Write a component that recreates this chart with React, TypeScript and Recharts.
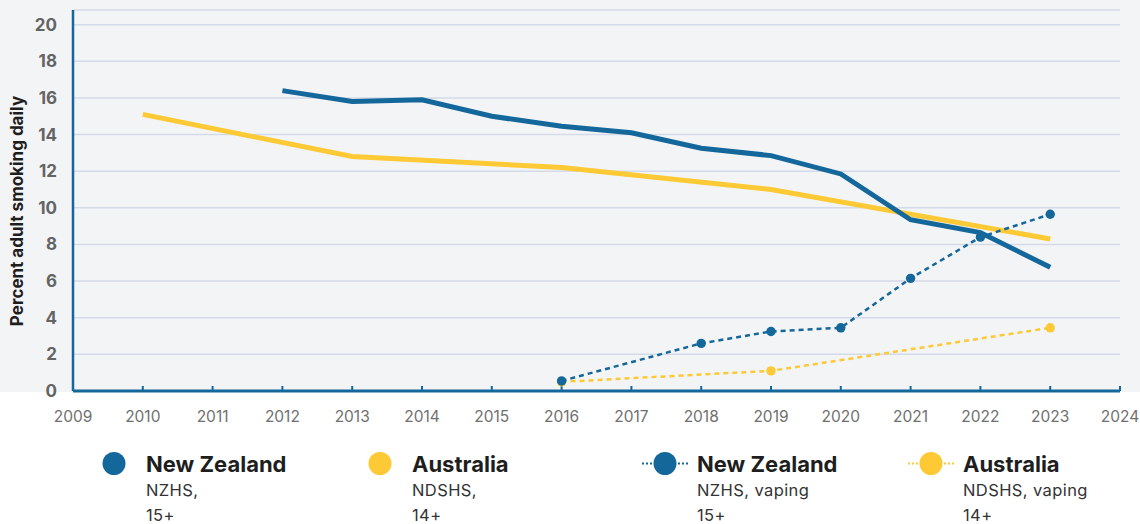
import React from "react";
import { LineChart, Line, XAxis, YAxis, CartesianGrid } from "recharts";

const years = [2009, 2010, 2011, 2012, 2013, 2014, 2015, 2016, 2017, 2018, 2019, 2020, 2021, 2022, 2023, 2024];
const nzDaily = [null, null, null, 16.4, 15.8, 15.9, 15.0, 14.45, 14.1, 13.25, 12.85, 11.85, 9.35, 8.65, 6.75, null];
const auDaily = [null, 15.1, null, null, 12.8, null, null, 12.2, null, null, 11.0, null, null, null, 8.3, null];
const nzVaping = [null, null, null, null, null, null, null, 0.55, null, 2.6, 3.25, 3.45, 6.15, 8.4, 9.65, null];
const auVaping = [null, null, null, null, null, null, null, 0.5, null, null, 1.1, null, null, null, 3.45, null];
const yTicks = [0, 2, 4, 6, 8, 10, 12, 14, 16, 18, 20];

const legendItems = [
  { title: "New Zealand", sub1: "NZHS,", sub2: "15+", color: "#14679b", dotted: false, cx: 114 },
  { title: "Australia", sub1: "NDSHS,", sub2: "14+", color: "#fdc935", dotted: false, cx: 380 },
  { title: "New Zealand", sub1: "NZHS, vaping", sub2: "15+", color: "#14679b", dotted: true, cx: 665 },
  { title: "Australia", sub1: "NDSHS, vaping", sub2: "14+", color: "#fdc935", dotted: true, cx: 931 },
];

const data = years.map((y, i) => ({
  year: y,
  nz: nzDaily[i],
  au: auDaily[i],
  nzV: nzVaping[i],
  auV: auVaping[i],
}));

const BLUE = "#14679b";
const YELLOW = "#fdc935";
const FONT = "Inter, 'Noto Sans', sans-serif";

const YLabel = () => {
  const x = 17;
  const y = 211;
  return (
    <text
      x={x}
      y={y}
      transform={`rotate(-90 ${x} ${y})`}
      textAnchor="middle"
      dominantBaseline="central"
      fontFamily={FONT}
      fontWeight={700}
      fontSize={17}
      fill="#1e1e1e"
    >
      Percent adult smoking daily
    </text>
  );
};

export default function App() {
  return (
    <div
      style={{
        position: "absolute",
        left: 0,
        top: 0,
        width: 1140,
        height: 524,
        background: "linear-gradient(#f3f4f6 0px, #f3f4f6 392px, #ffffff 392px)",
        fontFamily: FONT,
        overflow: "hidden",
      }}
    >
      <LineChart
        width={1140}
        height={430}
        data={data}
        margin={{ top: 10, right: 20, bottom: 9, left: 0 }}
      >
        <CartesianGrid horizontal={true} vertical={false} stroke="#d4dae7" strokeWidth={1.5} />
        <XAxis
          dataKey="year"
          type="number"
          domain={[2009, 2024]}
          ticks={years}
          interval={0}
          height={30}
          axisLine={{ stroke: BLUE, strokeWidth: 3 }}
          tickLine={{ stroke: BLUE, strokeWidth: 2 }}
          tickSize={-5}
          tickMargin={25}
          tick={{ fill: "#707070", fontSize: 15.5, fontFamily: FONT }}
        />
        <YAxis
          type="number"
          domain={[0, 20.8]}
          ticks={yTicks}
          interval={0}
          width={73}
          axisLine={{ stroke: BLUE, strokeWidth: 2.5 }}
          tickLine={false}
          tickMargin={10}
          tick={{ fill: "#646464", fontSize: 17, fontWeight: 700, fontFamily: FONT }}
          label={<YLabel />}
        />
        <Line
          dataKey="au"
          stroke={YELLOW}
          strokeWidth={5}
          dot={false}
          connectNulls
          type="linear"
          isAnimationActive={false}
        />
        <Line
          dataKey="nz"
          stroke={BLUE}
          strokeWidth={5}
          dot={false}
          connectNulls
          type="linear"
          isAnimationActive={false}
        />
        <Line
          dataKey="auV"
          stroke={YELLOW}
          strokeWidth={2.5}
          strokeDasharray="5 4"
          dot={{ r: 4.7, fill: YELLOW, stroke: "none", strokeDasharray: "0" }}
          connectNulls
          type="linear"
          isAnimationActive={false}
        />
        <Line
          dataKey="nzV"
          stroke={BLUE}
          strokeWidth={2.5}
          strokeDasharray="5 4"
          dot={{ r: 4.7, fill: BLUE, stroke: "none", strokeDasharray: "0" }}
          connectNulls
          type="linear"
          isAnimationActive={false}
        />
      </LineChart>
      <svg
        width={1140}
        height={94}
        style={{ position: "absolute", left: 0, top: 430 }}
      >
        {legendItems.map((it, i) => (
          <g key={i}>
            {it.dotted && (
              <line
                x1={it.cx - 23}
                x2={it.cx + 23}
                y1={33.5}
                y2={33.5}
                stroke={it.color}
                strokeWidth={2}
                strokeDasharray="2 2"
              />
            )}
            <circle cx={it.cx} cy={33.5} r={11.5} fill={it.color} />
            <text
              x={it.cx + 32}
              y={41.5}
              fontFamily={FONT}
              fontWeight={700}
              fontSize={22}
              fill="#1e1e1e"
            >
              {it.title}
            </text>
            <text x={it.cx + 32} y={66} fontFamily={FONT} fontSize={16.5} letterSpacing={0.4} fill="#333">
              {it.sub1}
            </text>
            <text x={it.cx + 32} y={91} fontFamily={FONT} fontSize={16.5} letterSpacing={0.4} fill="#333">
              {it.sub2}
            </text>
          </g>
        ))}
      </svg>
    </div>
  );
}
